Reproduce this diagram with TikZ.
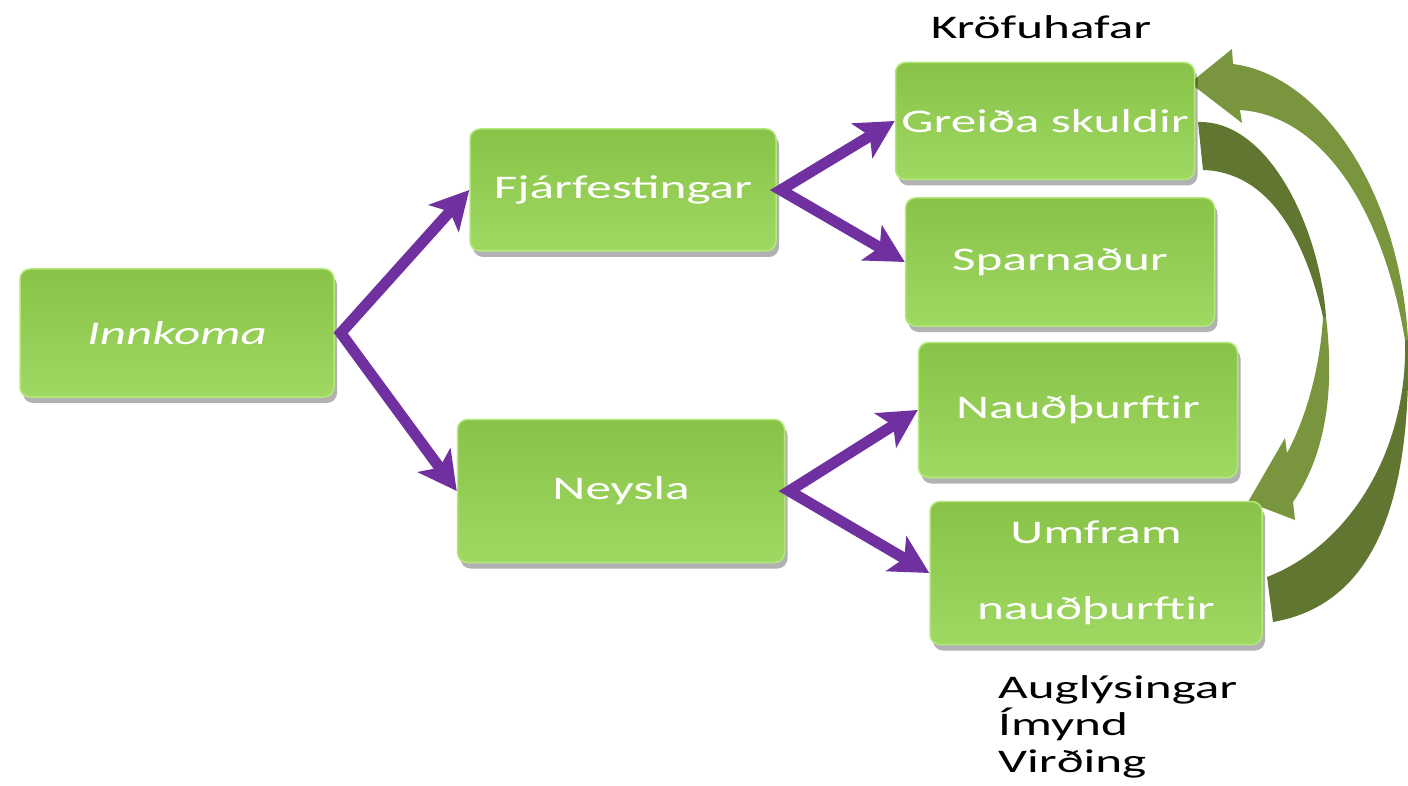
\documentclass[tikz,border=0pt]{standalone}
\usepackage{fontspec}
\setmainfont{Carlito}[FakeStretch=1.55]
\usetikzlibrary{arrows.meta,shadows}
\definecolor{boxtop}{RGB}{137,194,72}
\definecolor{boxbot}{RGB}{160,217,98}
\definecolor{boxrim}{RGB}{178,232,122}
\definecolor{ppl}{RGB}{112,48,160}
\definecolor{olivel}{RGB}{121,150,62}
\definecolor{olived}{RGB}{97,119,49}
\begin{document}
\begin{tikzpicture}[x=1pt,y=-1pt,
  box/.style={rectangle, rounded corners=10pt, top color=boxtop, bottom color=boxbot,
    draw=boxrim, line width=1.5pt, text=white, font=\fontsize{33}{40}\selectfont,
    align=center, inner sep=0pt,
    drop shadow={shadow xshift=3pt, shadow yshift=-6pt, opacity=0.3, fill=black}},
  lbl/.style={text=black, font=\fontsize{33}{37}\selectfont, inner sep=0pt},
  parrow/.style={draw=ppl, line width=11pt, line join=miter,
    Stealth-Stealth, arrows={[length=38pt, width=40pt, inset=9pt]}}]
\useasboundingbox (0,0) rectangle (1408,786);

% curved block arrows (behind boxes)
\fill[olivel] (1408,340) .. controls (1400,190) and (1320,75) .. (1233,64)
  -- (1232,49) -- (1190,83) -- (1242,123) -- (1240,110)
  .. controls (1320,115) and (1382,205) .. (1405,340) -- cycle;
\fill[olived] (1405,340) .. controls (1408,450) and (1350,545) .. (1267,577)
  -- (1273,622) .. controls (1370,605) and (1412,510) .. (1408,340) -- cycle;
\fill[olived] (1198,122) .. controls (1270,120) and (1320,230) .. (1326,317)
  -- (1323,317) .. controls (1305,240) and (1270,172) .. (1203,170) -- cycle;
\fill[olivel] (1326,317) .. controls (1336,400) and (1322,460) .. (1293,502)
  -- (1295,520) -- (1248,502) -- (1285,438) -- (1287,453)
  .. controls (1305,420) and (1320,370) .. (1323,317) -- cycle;

% boxes
\node[box, minimum width=314pt, minimum height=128pt] (inn) at (177,333) {\itshape Innkoma};
\node[box, minimum width=306pt, minimum height=122pt] (fja) at (623,190) {Fjárfestingar};
\node[box, minimum width=327pt, minimum height=143pt] (ney) at (621,491) {Neysla};
\node[box, minimum width=299pt, minimum height=117pt] (gre) at (1045,121) {Greiða skuldir};
\node[box, minimum width=309pt, minimum height=128pt] (spa) at (1060,262) {Sparnaður};
\node[box, minimum width=319pt, minimum height=135pt] (nau) at (1078,410) {Nauðþurftir};
\node[box, minimum width=332pt, minimum height=143pt] (umf) at (1096,573) {Umfram\\[36pt]nauðþurftir};

% labels
\node[lbl, anchor=base] (kro) at (1041,39) {Kröfuhafar};
\node[lbl, anchor=north west, align=left] (aug) at (998,675) {Auglýsingar\\Ímynd\\Virðing};

% purple connectors
\draw[parrow] (fja.west) -- ([xshift=6pt]inn.east) -- (ney.west);
\draw[parrow] (gre.west) -- ([xshift=4pt]fja.east) -- (spa.west);
\draw[parrow] (nau.west) -- ([xshift=4pt]ney.east) -- (umf.west);
\end{tikzpicture}
\end{document}
